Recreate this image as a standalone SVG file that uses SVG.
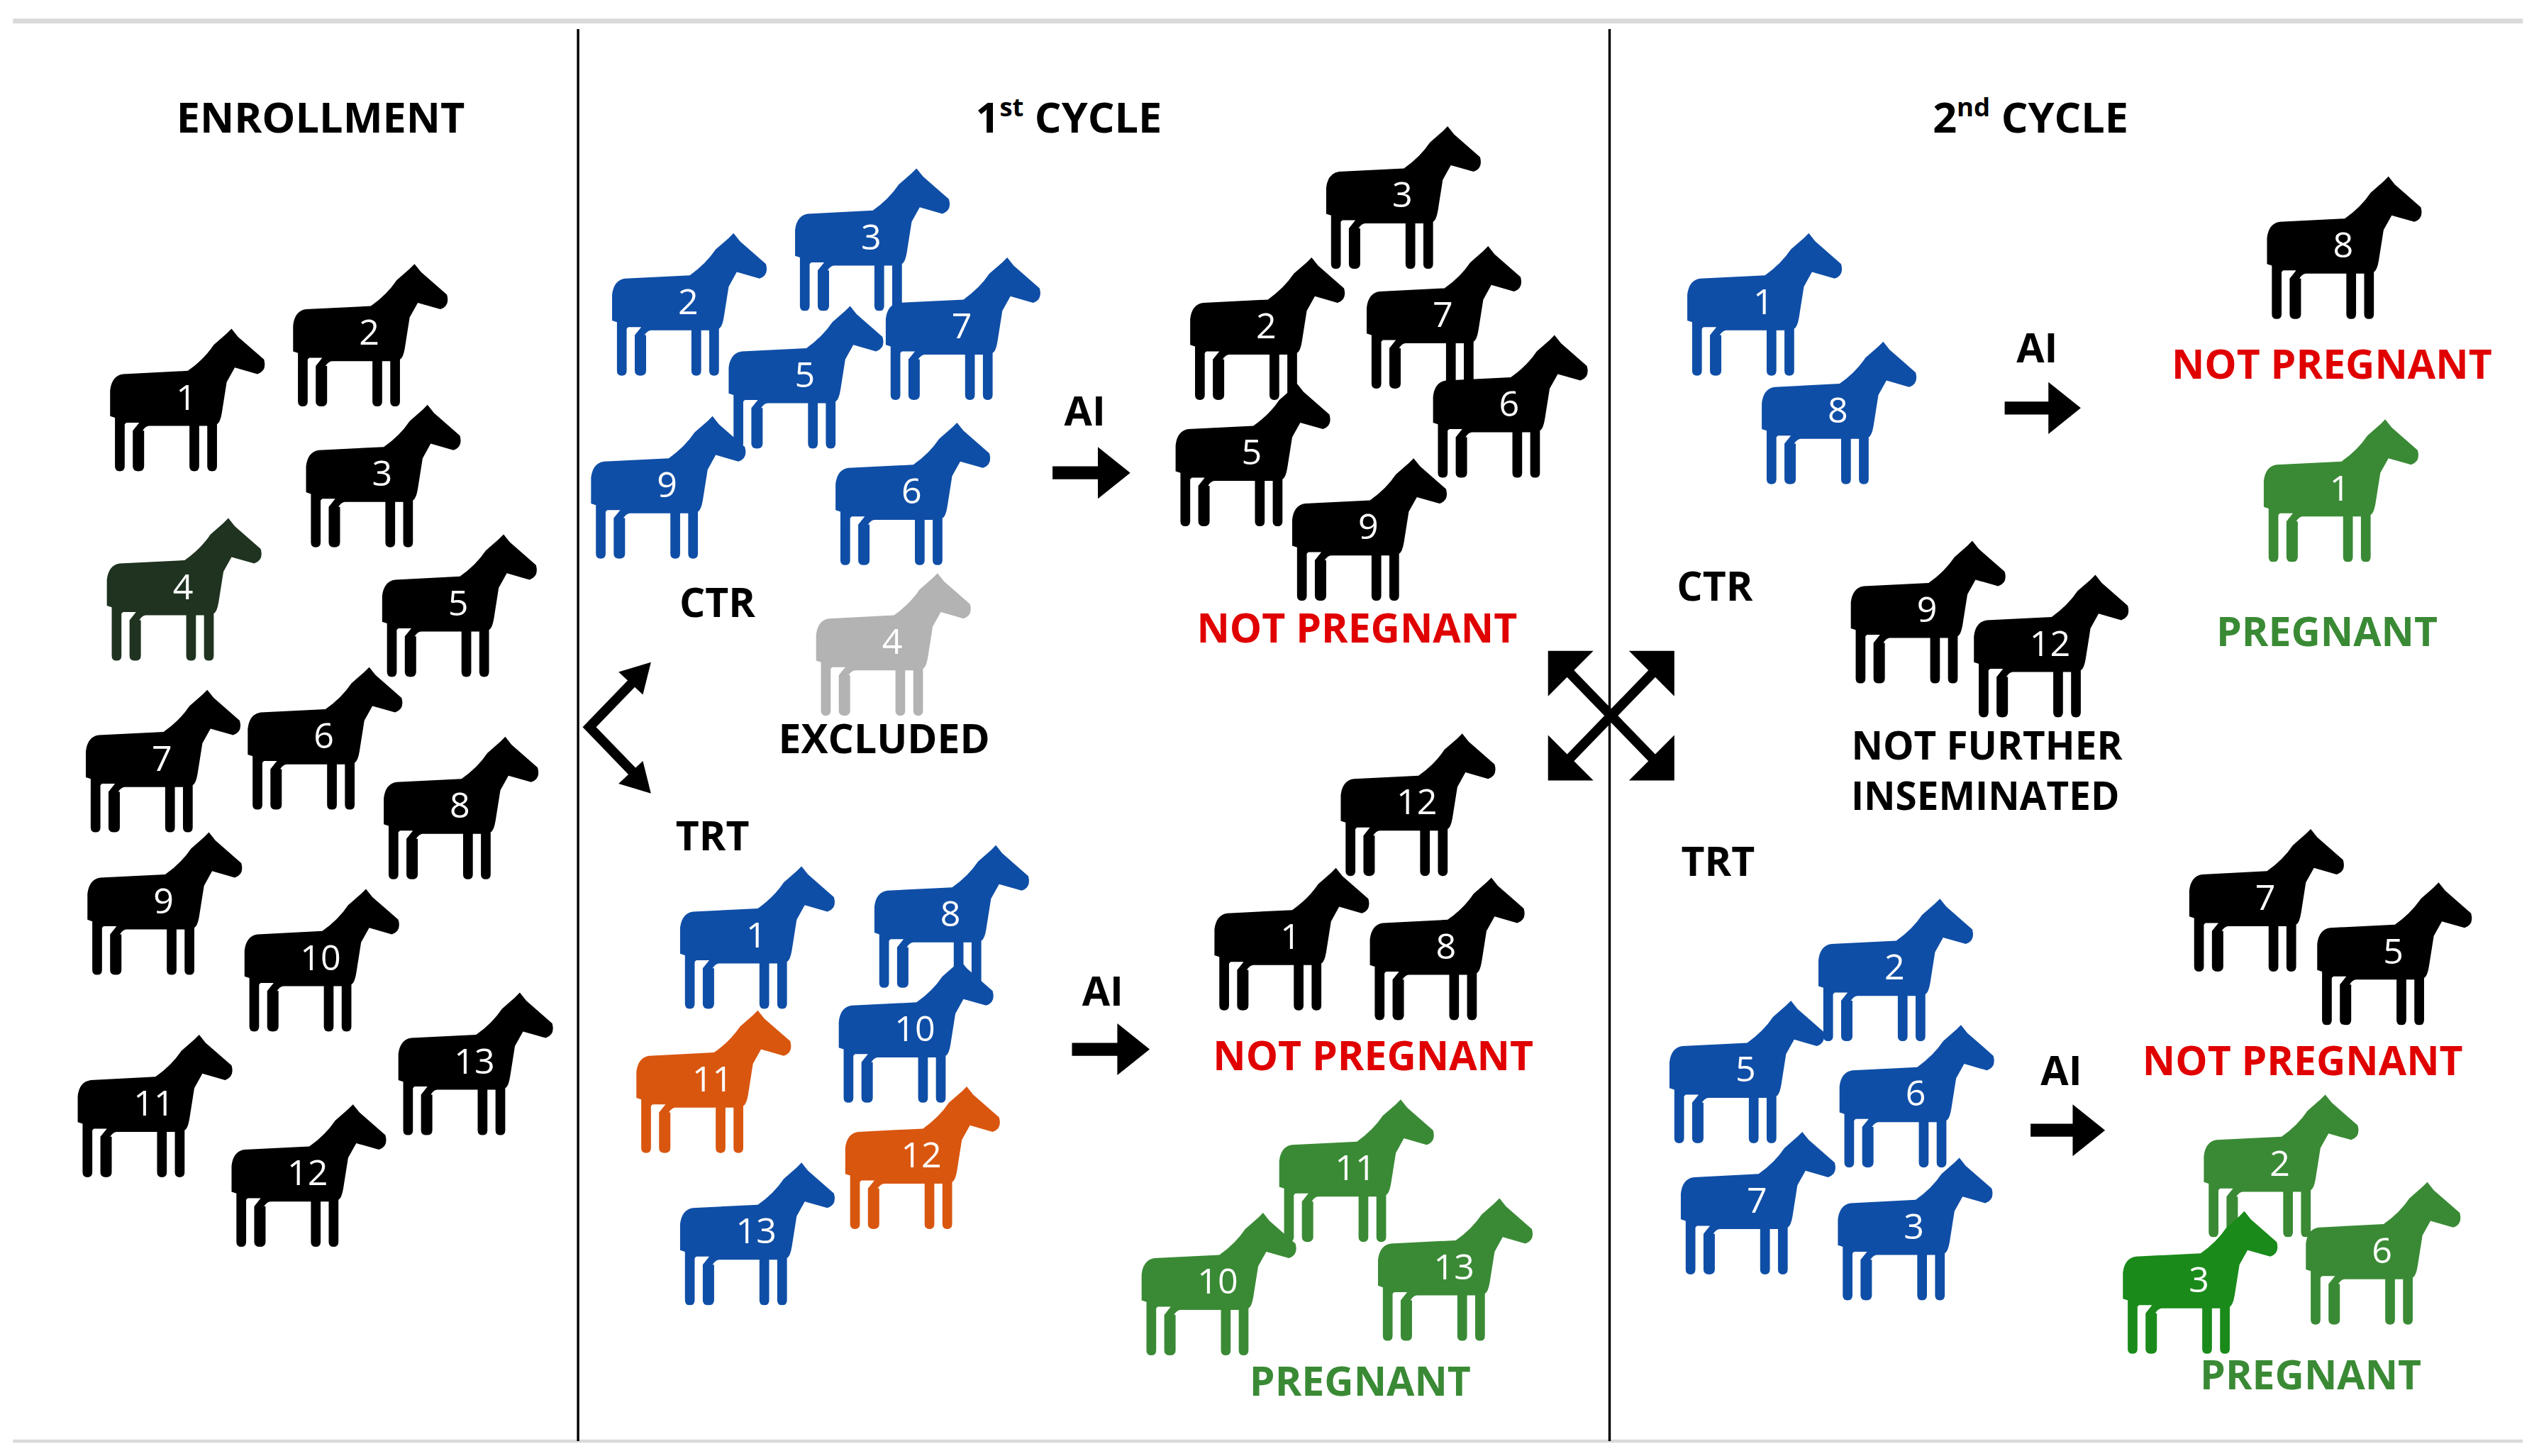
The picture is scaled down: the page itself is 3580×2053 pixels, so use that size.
<svg xmlns="http://www.w3.org/2000/svg" xmlns:xlink="http://www.w3.org/1999/xlink" width="3580" height="2053" viewBox="0 0 3580 2053">
<style>
text{font-family:"Open Sans","Liberation Sans",sans-serif;font-weight:bold;text-anchor:middle}
.h{font-size:26px;fill:#000}
.l{font-size:25px;fill:#000}
.s{font-size:24px;fill:#000}
.r{font-size:25px;fill:#e00000}
.g{font-size:25px;fill:#3a8a35}
.n{font-size:22px;fill:#fff;font-weight:normal}
.k{fill:#000}.b{fill:#0f4ea6}.o{fill:#d9560f}.gr{fill:#3a8a35}.dg{fill:#1a8a1a}.x{fill:#b3b3b3}.d4{fill:#1f3320}
</style>
<defs>
<path id="horse" d="M75,0 L79,5 L95,19 Q97,26 91,28 L77,24 L72,33 L69,52 Q68,58 66,59 L66,85 Q66,88 63,88 Q60,88 60,85 L60,60 L55,60 L55,85 Q55,88 52,88 Q49,88 49,85 L49,60 L24,60 Q22,60 20,63 L21,63 L21,85 Q21,88 17.5,88 Q14,88 14,85 L14,63 L18,58 L10,58 L9,59 L9,85 Q9,88 6,88 Q3,88 3,85 L3,55 L0,54 L0,38 Q1,29 8,28 L48,26 Q58,19 64,10 L72,3 Z"/>
</defs>
<rect width="3580" height="2053" fill="#fff"/>
<g transform="scale(2.2832)">
<g id="frame">
<line x1="8" y1="13" x2="1558" y2="13" stroke="#d9d9d9" stroke-width="3"/>
<line x1="8" y1="890" x2="1558" y2="890" stroke="#d9d9d9" stroke-width="2"/>
<line x1="357" y1="18" x2="357" y2="890" stroke="#000" stroke-width="1.5"/>
<line x1="994" y1="18" x2="994" y2="890" stroke="#000" stroke-width="1.5"/>
</g>
<g id="headers">
<text class="h" x="198" y="82">ENROLLMENT</text>
<text class="h" x="660" y="82">1<tspan font-size="16" dy="-10">st</tspan><tspan dy="10"> CYCLE</tspan></text>
<text class="h" x="1254" y="82">2<tspan font-size="16" dy="-10">nd</tspan><tspan dy="10"> CYCLE</tspan></text>
</g>
<g id="enrollment">
<g transform="translate(68,203)"><use href="#horse" class="k"/><text class="n" x="47" y="50">1</text></g>
<g transform="translate(181,163)"><use href="#horse" class="k"/><text class="n" x="47" y="50">2</text></g>
<g transform="translate(189,250)"><use href="#horse" class="k"/><text class="n" x="47" y="50">3</text></g>
<g transform="translate(66,320)"><use href="#horse" class="d4"/><text class="n" x="47" y="50">4</text></g>
<g transform="translate(236,330)"><use href="#horse" class="k"/><text class="n" x="47" y="50">5</text></g>
<g transform="translate(153,412)"><use href="#horse" class="k"/><text class="n" x="47" y="50">6</text></g>
<g transform="translate(53,426)"><use href="#horse" class="k"/><text class="n" x="47" y="50">7</text></g>
<g transform="translate(237,455)"><use href="#horse" class="k"/><text class="n" x="47" y="50">8</text></g>
<g transform="translate(54,514)"><use href="#horse" class="k"/><text class="n" x="47" y="50">9</text></g>
<g transform="translate(151,549)"><use href="#horse" class="k"/><text class="n" x="47" y="50">10</text></g>
<g transform="translate(48,639)"><use href="#horse" class="k"/><text class="n" x="47" y="50">11</text></g>
<g transform="translate(246,613)"><use href="#horse" class="k"/><text class="n" x="47" y="50">13</text></g>
<g transform="translate(143,682)"><use href="#horse" class="k"/><text class="n" x="47" y="50">12</text></g>
</g>
<g id="cycle1-ctr">
<g transform="translate(491,104)"><use href="#horse" class="b"/><text class="n" x="47" y="50">3</text></g>
<g transform="translate(378,144)"><use href="#horse" class="b"/><text class="n" x="47" y="50">2</text></g>
<g transform="translate(547,159)"><use href="#horse" class="b"/><text class="n" x="47" y="50">7</text></g>
<g transform="translate(450,189)"><use href="#horse" class="b"/><text class="n" x="47" y="50">5</text></g>
<g transform="translate(365,257)"><use href="#horse" class="b"/><text class="n" x="47" y="50">9</text></g>
<g transform="translate(516,261)"><use href="#horse" class="b"/><text class="n" x="47" y="50">6</text></g>
<g transform="translate(504,354)"><use href="#horse" class="x"/><text class="n" x="47" y="50">4</text></g>
<text class="l" x="443" y="381">CTR</text>
<text class="l" x="546" y="465">EXCLUDED</text>
<text class="l" x="670" y="263">AI</text>
</g>
<g id="cycle1-ctr-result">
<g transform="translate(819,78)"><use href="#horse" class="k"/><text class="n" x="47" y="50">3</text></g>
<g transform="translate(735,159)"><use href="#horse" class="k"/><text class="n" x="47" y="50">2</text></g>
<g transform="translate(844,152)"><use href="#horse" class="k"/><text class="n" x="47" y="50">7</text></g>
<g transform="translate(885,207)"><use href="#horse" class="k"/><text class="n" x="47" y="50">6</text></g>
<g transform="translate(726,237)"><use href="#horse" class="k"/><text class="n" x="47" y="50">5</text></g>
<g transform="translate(798,283)"><use href="#horse" class="k"/><text class="n" x="47" y="50">9</text></g>
<text class="r" x="838" y="397">NOT PREGNANT</text>
</g>
<g id="cycle1-trt">
<text class="l" x="440" y="525">TRT</text>
<g transform="translate(420,535)"><use href="#horse" class="b"/><text class="n" x="47" y="50">1</text></g>
<g transform="translate(540,522)"><use href="#horse" class="b"/><text class="n" x="47" y="50">8</text></g>
<g transform="translate(518,593)"><use href="#horse" class="b"/><text class="n" x="47" y="50">10</text></g>
<g transform="translate(393,624)"><use href="#horse" class="o"/><text class="n" x="47" y="50">11</text></g>
<g transform="translate(522,671)"><use href="#horse" class="o"/><text class="n" x="47" y="50">12</text></g>
<g transform="translate(420,718)"><use href="#horse" class="b"/><text class="n" x="47" y="50">13</text></g>
<text class="l" x="681" y="621">AI</text>
</g>
<g id="cycle1-trt-result">
<g transform="translate(828,453)"><use href="#horse" class="k"/><text class="n" x="47" y="50">12</text></g>
<g transform="translate(750,536)"><use href="#horse" class="k"/><text class="n" x="47" y="50">1</text></g>
<g transform="translate(846,542)"><use href="#horse" class="k"/><text class="n" x="47" y="50">8</text></g>
<text class="r" x="848" y="661">NOT PREGNANT</text>
<g transform="translate(790,679)"><use href="#horse" class="gr"/><text class="n" x="47" y="50">11</text></g>
<g transform="translate(851,740)"><use href="#horse" class="gr"/><text class="n" x="47" y="50">13</text></g>
<g transform="translate(705,749)"><use href="#horse" class="gr"/><text class="n" x="47" y="50">10</text></g>
<text class="g" x="840" y="862">PREGNANT</text>
</g>
<g id="cycle2-ctr">
<text class="l" x="1059" y="371">CTR</text>
<g transform="translate(1042,144)"><use href="#horse" class="b"/><text class="n" x="47" y="50">1</text></g>
<g transform="translate(1088,211)"><use href="#horse" class="b"/><text class="n" x="47" y="50">8</text></g>
<text class="l" x="1258" y="224">AI</text>
<g transform="translate(1400,109)"><use href="#horse" class="k"/><text class="n" x="47" y="50">8</text></g>
<text class="r" x="1440" y="234">NOT PREGNANT</text>
<g transform="translate(1398,259)"><use href="#horse" class="gr"/><text class="n" x="47" y="50">1</text></g>
<text class="g" x="1437" y="399">PREGNANT</text>
<g transform="translate(1143,334)"><use href="#horse" class="k"/><text class="n" x="47" y="50">9</text></g>
<g transform="translate(1219,355)"><use href="#horse" class="k"/><text class="n" x="47" y="50">12</text></g>
<text class="s" x="1227" y="469">NOT FURTHER</text>
<text class="s" x="1226" y="500">INSEMINATED</text>
</g>
<g id="cycle2-trt">
<text class="l" x="1061" y="541">TRT</text>
<g transform="translate(1123,555)"><use href="#horse" class="b"/><text class="n" x="47" y="50">2</text></g>
<g transform="translate(1031,618)"><use href="#horse" class="b"/><text class="n" x="47" y="50">5</text></g>
<g transform="translate(1136,633)"><use href="#horse" class="b"/><text class="n" x="47" y="50">6</text></g>
<g transform="translate(1038,699)"><use href="#horse" class="b"/><text class="n" x="47" y="50">7</text></g>
<g transform="translate(1135,715)"><use href="#horse" class="b"/><text class="n" x="47" y="50">3</text></g>
<text class="l" x="1273" y="670">AI</text>
<g transform="translate(1352,512)"><use href="#horse" class="k"/><text class="n" x="47" y="50">7</text></g>
<g transform="translate(1431,545)"><use href="#horse" class="k"/><text class="n" x="47" y="50">5</text></g>
<text class="r" x="1422" y="664">NOT PREGNANT</text>
<g transform="translate(1361,676)"><use href="#horse" class="gr"/><text class="n" x="47" y="50">2</text></g>
<g transform="translate(1424,730)"><use href="#horse" class="gr"/><text class="n" x="47" y="50">6</text></g>
<g transform="translate(1311,748)"><use href="#horse" class="dg"/><text class="n" x="47" y="50">3</text></g>
<text class="g" x="1427" y="858">PREGNANT</text>
</g>
<g id="connectors" fill="#000">
<path d="M650,288 h28 v-12 l20,16 l-20,16 v-12 h-28 z"/>
<path d="M662,644 h28 v-12 l20,16 l-20,16 v-12 h-28 z"/>
<path d="M1238,248 h27 v-12 l20,16 l-20,16 v-12 h-27 z"/>
<path d="M1254,694 h26 v-12 l20,16 l-20,16 v-12 h-26 z"/>
<g stroke="#000" stroke-width="6" fill="none">
<polyline points="392,420 364,449 392,478"/>
<line x1="964" y1="410" x2="1026" y2="474"/>
<line x1="1026" y1="410" x2="964" y2="474"/>
</g>
<polygon points="402,409 397,429 382,415"/>
<polygon points="402,490 397,470 382,484"/>
<path d="M956,402 l28,0 l-28,28 z"/>
<path d="M1034,402 l-28,0 l28,28 z"/>
<path d="M956,482 l28,0 l-28,-28 z"/>
<path d="M1034,482 l-28,0 l28,-28 z"/>
</g>
</g>
</svg>
